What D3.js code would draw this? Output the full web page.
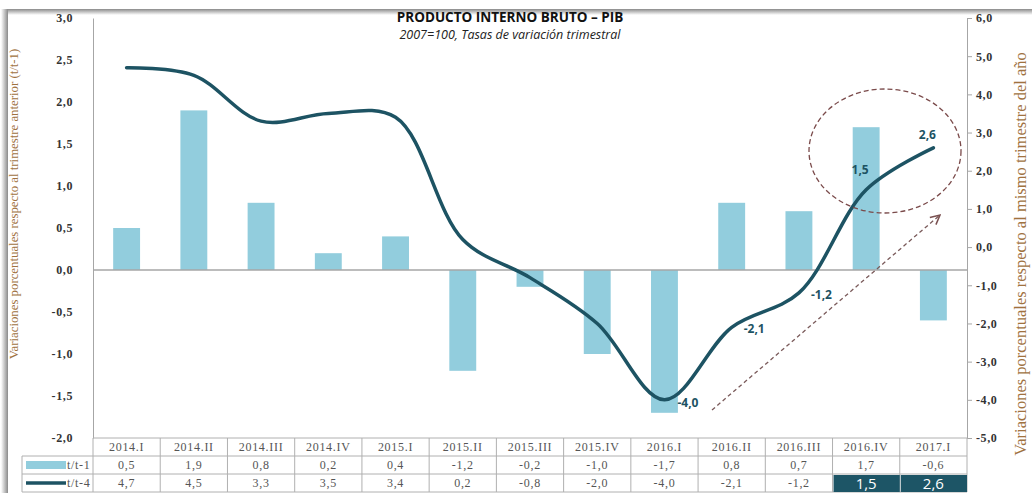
<!DOCTYPE html>
<html><head><meta charset="utf-8">
<script src="https://cdn.jsdelivr.net/npm/d3@7/dist/d3.min.js"></script>
<style>html,body{margin:0;padding:0;background:#fff;}svg{display:block;}</style>
</head><body>
<svg id="chart" width="1032" height="493"></svg>
<script>
const categories = ["2014.I","2014.II","2014.III","2014.IV","2015.I","2015.II","2015.III","2015.IV","2016.I","2016.II","2016.III","2016.IV","2017.I"];
const qoq = [0.5,1.9,0.8,0.2,0.4,-1.2,-0.2,-1.0,-1.7,0.8,0.7,1.7,-0.6];
const yoy = [4.7,4.5,3.3,3.5,3.4,0.2,-0.8,-2.0,-4.0,-2.1,-1.2,1.5,2.6];
const leftTicks = [-2,-1.5,-1,-0.5,0,0.5,1,1.5,2,2.5,3];
const rightTicks = [-5,-4,-3,-2,-1,0,1,2,3,4,5,6];
const labeledPoints = ["2016.I","2016.II","2016.III","2016.IV","2017.I"];
const highlighted = ["2016.IV","2017.I"];
const seriesNames = ["t/t-1","t/t-4"];
const title = "PRODUCTO INTERNO BRUTO – PIB";
const subtitle = "2007=100,  Tasas de variación trimestral";
const leftTitle = "Variaciones porcentuales respecto al trimestre anterior (t/t-1)";
const rightTitle = "Variaciones porcentuales respecto al mismo trimestre del año";

const BAR = "#92cddd", LINE = "#1d5363", AXIS_TXT = "#333", BROWN = "#a0723f", GRID = "#a6a6a6";
const loc = d3.formatLocale({decimal:",", thousands:".", grouping:[3], currency:["",""], minus:"-"});
const f1 = loc.format(".1f");

const svg = d3.select("#chart");
const L = 93, R = 967, T = 18, B = 438;

// frame shadow
const defs = svg.append("defs");
const gT = defs.append("linearGradient").attr("id","gt").attr("x1",0).attr("y1",0).attr("x2",0).attr("y2",1);
gT.append("stop").attr("offset","0").attr("stop-color","#8a8a8a");
gT.append("stop").attr("offset","1").attr("stop-color","#fff");
const gL = defs.append("linearGradient").attr("id","gl").attr("x1",0).attr("y1",0).attr("x2",1).attr("y2",0);
gL.append("stop").attr("offset","0").attr("stop-color","#fff");
gL.append("stop").attr("offset","1").attr("stop-color","#8a8a8a");
svg.append("rect").attr("x",2).attr("y",9).attr("width",1030).attr("height",6).attr("fill","url(#gt)");
svg.append("rect").attr("x",1).attr("y",9).attr("width",7).attr("height",484).attr("fill","url(#gl)");

const x = d3.scaleBand().domain(categories).range([L,R]).padding(0);
const yL = d3.scaleLinear().domain([-2,3]).range([B,T]);
const yR = d3.scaleLinear().domain([-5,6]).range([B,T]);
const bw = x.bandwidth()*0.4;
const cx = c => x(c) + x.bandwidth()/2;

// title
svg.append("text").attr("x",510).attr("y",22).attr("text-anchor","middle")
  .attr("font-family","Open Sans, Liberation Sans, sans-serif").attr("font-weight","bold").attr("font-size",13.5).attr("fill","#111").text(title);
svg.append("text").attr("x",510).attr("y",39).attr("text-anchor","middle")
  .attr("font-family","Open Sans, Liberation Sans, sans-serif").attr("font-style","italic").attr("font-size",12.5).attr("fill","#222").text(subtitle);

// bars
svg.append("g").selectAll("rect").data(categories).join("rect")
  .attr("x", c => cx(c) - bw/2)
  .attr("y", (c,i) => yL(Math.max(0,qoq[i])))
  .attr("width", bw)
  .attr("height", (c,i) => Math.abs(yL(qoq[i]) - yL(0)))
  .attr("fill", BAR);

// zero line
svg.append("line").attr("x1",L).attr("x2",R).attr("y1",yL(0)).attr("y2",yL(0)).attr("stroke",GRID).attr("stroke-width",1.3);

const tickFont = "Liberation Serif, serif";
// left axis
const ax = svg.append("g").attr("transform",`translate(${L},0)`)
  .call(d3.axisLeft(yL).tickValues(leftTicks).tickFormat(f1).tickSize(0).tickPadding(20));
ax.select(".domain").attr("stroke",GRID);
ax.selectAll("text").attr("font-family",tickFont).attr("font-weight","bold").attr("font-size",12).attr("letter-spacing",0.6).attr("fill",AXIS_TXT);

// right axis
const axR = svg.append("g").attr("transform",`translate(${R},0)`)
  .call(d3.axisRight(yR).tickValues(rightTicks).tickFormat(f1).tickSize(5).tickSizeOuter(0).tickPadding(4));
axR.select(".domain").attr("stroke",GRID);
axR.selectAll(".tick line").attr("stroke",GRID);
axR.selectAll("text").attr("font-family",tickFont).attr("font-weight","bold").attr("font-size",12).attr("letter-spacing",0.6).attr("fill",AXIS_TXT);

// axis titles
svg.append("text").attr("transform",`translate(18,204) rotate(-90)`).attr("text-anchor","middle")
  .attr("font-family","Liberation Serif, serif").attr("font-size",12.8).attr("fill",BROWN).text(leftTitle);
svg.append("text").attr("transform",`translate(1026,254) rotate(-90)`).attr("text-anchor","middle")
  .attr("font-family","Liberation Serif, serif").attr("font-size",16.5).attr("fill",BROWN).text(rightTitle);

// line
const line = d3.line().x((d,i) => cx(categories[i])).y(d => yR(d)).curve(d3.curveCatmullRom.alpha(0.5));
svg.append("path").datum(yoy).attr("d",line).attr("fill","none").attr("stroke",LINE).attr("stroke-width",3.5).attr("stroke-linecap","round");

// data labels
const lblOff = {"2016.I":[13,7,"start"],"2016.II":[12,6,"start"],"2016.III":[12,6,"start"],"2016.IV":[-6,-16,"middle"],"2017.I":[-6,-9,"middle"]};
svg.append("g").selectAll("text").data(labeledPoints).join("text")
  .attr("x", c => cx(c) + lblOff[c][0])
  .attr("y", c => yR(yoy[categories.indexOf(c)]) + lblOff[c][1])
  .attr("text-anchor", c => lblOff[c][2])
  .attr("font-family","Open Sans, sans-serif").attr("font-weight","bold").attr("font-size",12).attr("fill",LINE)
  .text(c => f1(yoy[categories.indexOf(c)]));

// annotations
defs.append("marker").attr("id","arr").attr("viewBox","0 0 10 10").attr("refX",9).attr("refY",5)
  .attr("markerWidth",9).attr("markerHeight",9).attr("orient","auto")
  .append("path").attr("d","M1,1 L9,5 L1,9").attr("fill","none").attr("stroke","#7a5050").attr("stroke-width",1.3);
svg.append("line").attr("x1",712).attr("y1",410).attr("x2",940).attr("y2",215)
  .attr("stroke","#7a5a5a").attr("stroke-width",1.3).attr("stroke-dasharray","4,3").attr("marker-end","url(#arr)");
svg.append("ellipse").attr("cx",885).attr("cy",151).attr("rx",76).attr("ry",62)
  .attr("fill","none").attr("stroke","#7a4a4a").attr("stroke-width",1.3).attr("stroke-dasharray","5,3");

// table
const rows = [B, 456, 474, 492];
const tb = svg.append("g");
const tcol = "#b0b0b0";
tb.append("line").attr("x1",L).attr("x2",R).attr("y1",rows[0]).attr("y2",rows[0]).attr("stroke",tcol);
[1,2,3].forEach(k => tb.append("line").attr("x1",22).attr("x2",R).attr("y1",rows[k]).attr("y2",rows[k]).attr("stroke",tcol));
categories.forEach(c => tb.append("line").attr("x1",x(c)).attr("x2",x(c)).attr("y1",rows[0]).attr("y2",rows[3]).attr("stroke",tcol));
tb.append("line").attr("x1",R).attr("x2",R).attr("y1",rows[0]).attr("y2",rows[3]).attr("stroke",tcol);
tb.append("line").attr("x1",22).attr("x2",22).attr("y1",rows[1]).attr("y2",rows[3]).attr("stroke",tcol);
tb.selectAll("rect.hl").data(highlighted).join("rect").attr("class","hl")
  .attr("x", c => x(c)+1).attr("y", rows[2]+1).attr("width", x.bandwidth()-1).attr("height", rows[3]-rows[2]-1).attr("fill","#1d5566");
const tf = "Liberation Serif, serif";
const tfs = 12, tls = 0.7, tcolr = "#555";
tb.selectAll("text.h").data(categories).join("text").attr("class","h")
  .attr("x", c => cx(c)).attr("y", 451).attr("text-anchor","middle")
  .attr("font-family",tf).attr("font-size",tfs).attr("letter-spacing",tls).attr("fill",tcolr).text(c => c);
tb.selectAll("text.r1").data(categories).join("text").attr("class","r1")
  .attr("x", c => cx(c)).attr("y", 469).attr("text-anchor","middle")
  .attr("font-family",tf).attr("font-size",tfs).attr("letter-spacing",tls).attr("fill",tcolr).text((c,i) => f1(qoq[i]));
tb.selectAll("text.r2").data(categories).join("text").attr("class","r2")
  .attr("x", c => cx(c)).attr("y", c => highlighted.includes(c) ? 489 : 487).attr("text-anchor","middle")
  .attr("font-family", c => highlighted.includes(c) ? "Open Sans, sans-serif" : tf)
  .attr("font-size", c => highlighted.includes(c) ? 15 : tfs)
  .attr("letter-spacing", c => highlighted.includes(c) ? 0 : tls)
  .attr("fill", c => highlighted.includes(c) ? "#fff" : tcolr).text((c,i) => f1(yoy[i]));
tb.append("rect").attr("x",26).attr("y",461).attr("width",40).attr("height",8).attr("fill",BAR);
tb.append("line").attr("x1",26).attr("x2",66).attr("y1",483).attr("y2",483).attr("stroke",LINE).attr("stroke-width",3.5);
tb.append("text").attr("x",67).attr("y",469).attr("font-family",tf).attr("font-size",tfs).attr("letter-spacing",tls).attr("fill",tcolr).text(seriesNames[0]);
tb.append("text").attr("x",67).attr("y",487).attr("font-family",tf).attr("font-size",tfs).attr("letter-spacing",tls).attr("fill",tcolr).text(seriesNames[1]);
</script>
</body></html>
